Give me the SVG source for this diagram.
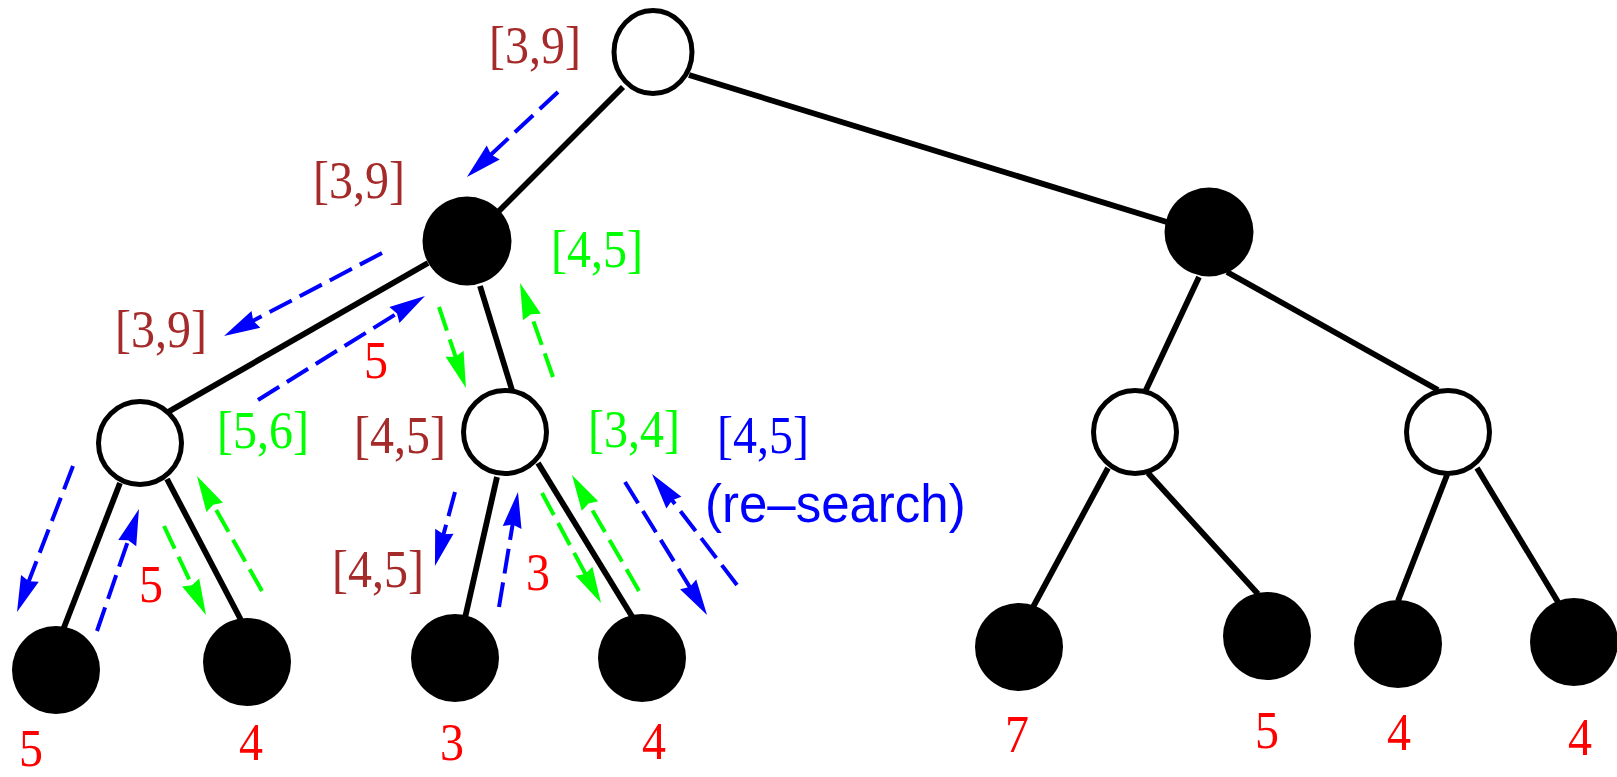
<svg xmlns="http://www.w3.org/2000/svg" width="1617" height="777" viewBox="0 0 1617 777">
<style>
.edge{stroke:#000;stroke-width:5.8;fill:none}
.wn{fill:#fff;stroke:#000;stroke-width:5}
.bn{fill:#000}
.ab{stroke:#0000ff;stroke-width:4;stroke-dasharray:25 9;fill:none;marker-end:url(#mb)}
.ag{stroke:#00ff00;stroke-width:4;stroke-dasharray:25 9;fill:none;marker-end:url(#mg)}
.s{font-family:"Liberation Serif","Times New Roman",serif;font-size:48px}
.ss{font-family:"Liberation Sans",Arial,sans-serif;font-size:51px}
.br{fill:#a52a2a}.gr{fill:#00ff00}.bl{fill:#0000ff}.rd{fill:#ff0000}
</style>
<defs>
<marker id="mb" viewBox="-16 -11 40 22" refX="0" refY="0" markerWidth="40" markerHeight="22" markerUnits="userSpaceOnUse" orient="auto">
<path d="M22,0 L-14,-9.5 L-11,0 L-14,9.5 Z" fill="#0000ff"/>
</marker>
<marker id="mg" viewBox="-16 -11 40 22" refX="0" refY="0" markerWidth="40" markerHeight="22" markerUnits="userSpaceOnUse" orient="auto">
<path d="M22,0 L-14,-9.5 L-11,0 L-14,9.5 Z" fill="#00ff00"/>
</marker>
</defs>
<g id="edges">
<line class="edge" x1="623" y1="87" x2="499" y2="211"/>
<line class="edge" x1="689" y1="75" x2="1170" y2="223"/>
<line class="edge" x1="428" y1="263" x2="168" y2="412"/>
<line class="edge" x1="480" y1="286" x2="512" y2="390"/>
<line class="edge" x1="1199" y1="277" x2="1145" y2="392"/>
<line class="edge" x1="1227" y1="272" x2="1438" y2="390"/>
<line class="edge" x1="120" y1="483" x2="63" y2="630"/>
<line class="edge" x1="167" y1="479" x2="241" y2="620"/>
<line class="edge" x1="497" y1="477" x2="465" y2="618"/>
<line class="edge" x1="538" y1="463" x2="633" y2="618"/>
<line class="edge" x1="1108" y1="468" x2="1032" y2="609"/>
<line class="edge" x1="1148" y1="473" x2="1258" y2="594"/>
<line class="edge" x1="1447" y1="475" x2="1398" y2="601"/>
<line class="edge" x1="1477" y1="468" x2="1558" y2="602"/>
</g>
<g id="nodes">
<g id="root"><ellipse class="wn" cx="653" cy="52" rx="39" ry="41.5"/></g>
<g id="n1"><circle class="bn" cx="467" cy="241" r="44.5"/></g>
<g id="n2"><circle class="bn" cx="1209" cy="232" r="44.5"/></g>
<g id="n11"><circle class="wn" cx="140" cy="443" r="41.5"/></g>
<g id="n12"><circle class="wn" cx="505" cy="432" r="41.5"/></g>
<g id="n21"><circle class="wn" cx="1135" cy="432" r="41.5"/></g>
<g id="n22"><circle class="wn" cx="1448" cy="432" r="41.5"/></g>
<g id="l1"><circle class="bn" cx="56" cy="670" r="44"/></g>
<g id="l2"><circle class="bn" cx="247" cy="662" r="44"/></g>
<g id="l3"><circle class="bn" cx="455" cy="658" r="44"/></g>
<g id="l4"><circle class="bn" cx="642" cy="658" r="44"/></g>
<g id="l5"><circle class="bn" cx="1019" cy="647" r="44"/></g>
<g id="l6"><circle class="bn" cx="1267" cy="636" r="44"/></g>
<g id="l7"><circle class="bn" cx="1398" cy="644" r="44"/></g>
<g id="l8"><circle class="bn" cx="1574" cy="642" r="44"/></g>
</g>
<g id="arrows">
<line class="ab" x1="558" y1="92" x2="483" y2="162"/>
<line class="ab" x1="382" y1="253" x2="243.5" y2="325.8"/>
<line class="ab" x1="258" y1="400" x2="406.3" y2="307.6"/>
<line class="ab" x1="73" y1="466" x2="24.9" y2="591.4"/>
<line class="ab" x1="97" y1="631" x2="131.8" y2="529.8"/>
<line class="ab" x1="455" y1="492" x2="440.7" y2="544.8"/>
<line class="ab" x1="499" y1="607" x2="514.4" y2="513.7"/>
<line class="ab" x1="625" y1="482" x2="695.5" y2="596.3"/>
<line class="ab" x1="737" y1="585" x2="665.4" y2="491.5"/>
<line class="ag" x1="439" y1="307" x2="459" y2="367.1"/>
<line class="ag" x1="553" y1="377" x2="527.3" y2="303.8"/>
<line class="ag" x1="164" y1="526" x2="196.6" y2="595.1"/>
<line class="ag" x1="262" y1="591" x2="207.8" y2="495.2"/>
<line class="ag" x1="542" y1="493" x2="590.6" y2="583.6"/>
<line class="ag" x1="639" y1="591" x2="583" y2="494"/>
</g>
<g id="labels">
<text class="s br" transform="translate(489,63) scale(1,1.1)">[3,9]</text>
<text class="s br" transform="translate(313,198) scale(1,1.1)">[3,9]</text>
<text class="s br" transform="translate(115,347) scale(1,1.1)">[3,9]</text>
<text class="s gr" transform="translate(551,267) scale(1,1.1)">[4,5]</text>
<text class="s rd" transform="translate(364,378) scale(1,1.1)">5</text>
<text class="s gr" transform="translate(217,448) scale(1,1.1)">[5,6]</text>
<text class="s br" transform="translate(354,453) scale(1,1.1)">[4,5]</text>
<text class="s gr" transform="translate(588,447) scale(1,1.1)">[3,4]</text>
<text class="s bl" transform="translate(717,453) scale(1,1.1)">[4,5]</text>
<text class="ss bl" transform="translate(705,522) scale(1,1.04)">(re–search)</text>
<text class="s br" transform="translate(332,587) scale(1,1.1)">[4,5]</text>
<text class="s rd" transform="translate(139,602) scale(1,1.1)">5</text>
<text class="s rd" transform="translate(526,590) scale(1,1.1)">3</text>
<text class="s rd" transform="translate(19,766) scale(1,1.1)">5</text>
<text class="s rd" transform="translate(239,760) scale(1,1.1)">4</text>
<text class="s rd" transform="translate(440,760) scale(1,1.1)">3</text>
<text class="s rd" transform="translate(642,759) scale(1,1.1)">4</text>
<text class="s rd" transform="translate(1005,752) scale(1,1.1)">7</text>
<text class="s rd" transform="translate(1255,748) scale(1,1.1)">5</text>
<text class="s rd" transform="translate(1387,750) scale(1,1.1)">4</text>
<text class="s rd" transform="translate(1568,755) scale(1,1.1)">4</text>
</g>
</svg>
